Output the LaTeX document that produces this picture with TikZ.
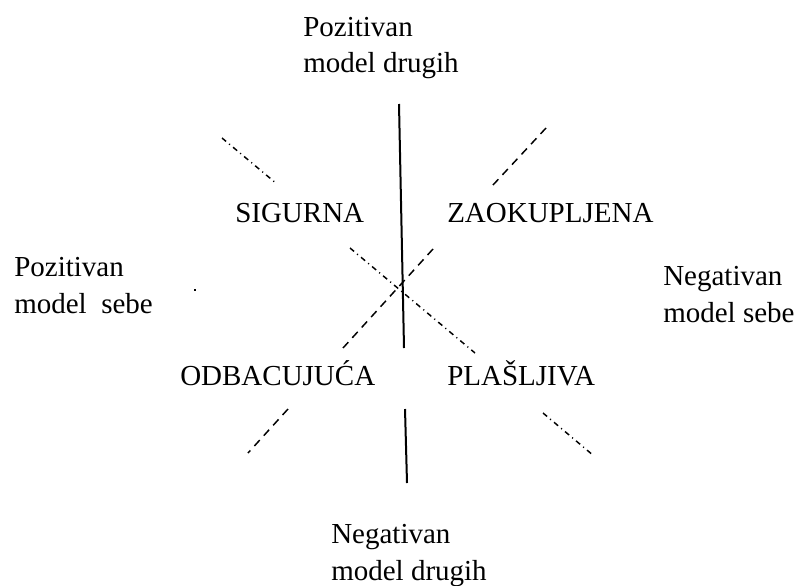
\documentclass[tikz,border=0pt]{standalone}
\usepackage{fontspec}
\setmainfont{LiberationSerif}[Extension=.ttf, UprightFont=*-Regular, BoldFont=*-Bold]
\usetikzlibrary{positioning}
\tikzset{solidax/.style={line width=1.5pt}, dashax/.style={line width=1.1pt, dash pattern=on 6pt off 4.5pt}, dotax/.style={line width=1.1pt, dash pattern=on 4pt off 3pt on 0.8pt off 3pt}, lab/.style={font=\fontsize{21.75pt}{27.75pt}\selectfont, inner sep=0pt, anchor=base west, align=left}}

\begin{document}
\begin{tikzpicture}[x=0.75pt,y=-0.75pt]
\useasboundingbox (0,0) rectangle (798,585);
% osi
\draw[solidax] (399,104) -- (404,348);
\draw[solidax] (405,409) -- (407,483);
\draw[dashax] (546,128) -- (493,185);
\draw[dashax] (433,249) -- (343,348);
\draw[dashax] (288,409) -- (248,453);
\draw[dotax] (222,138) -- (277,184);
\draw[dotax] (350,248) -- (475,353);
\draw[dotax] (543,413) -- (594,456);
\fill (194,289) rectangle (196,291);
% oznake (base = zadnji red)
\node[lab] (posdrugi) at (303,73) {Pozitivan\\model drugih};
\node[lab] (negdrugi) at (331,580) {Negativan\\model drugih};
\node[lab] (possebe) at (14,313) {Pozitivan\\model\ \ sebe};
\node[lab] (negsebe) at (663,322) {Negativan\\model sebe};
\node[lab] (sigurna) at (235,222) {SIGURNA};
\node[lab] (zaokup) at (447,222) {ZAOKUPLJENA};
\node[lab] (odbac) at (180,385) {ODBACUJUĆA};
\node[lab] (plasljiva) at (447,385) {PLAŠLJIVA};
\end{tikzpicture}
\end{document}
